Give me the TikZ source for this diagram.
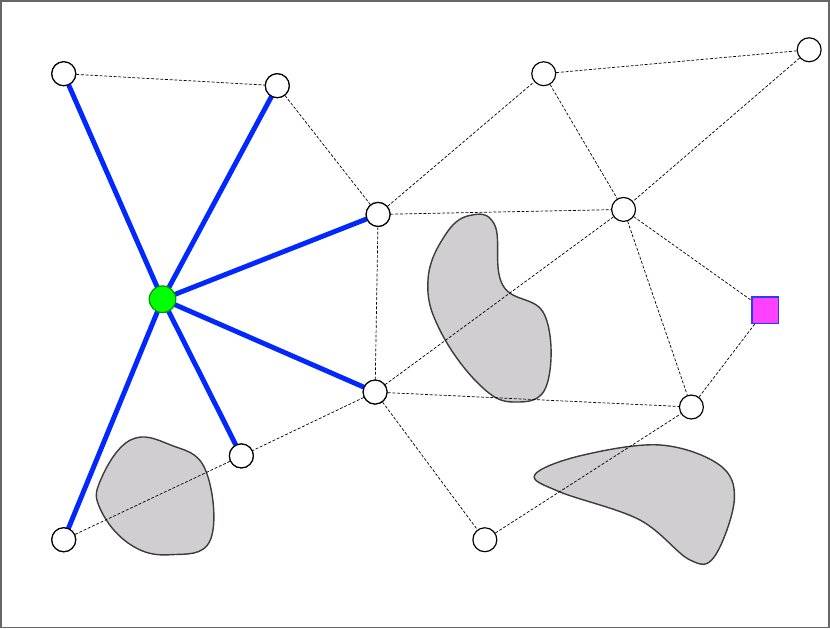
\documentclass[tikz,border=0pt]{standalone}
\begin{document}
\begin{tikzpicture}[x=0.03cm,y=-0.03cm,
    vtx/.style={circle,draw,fill=white,line width=1pt,minimum size=0.72cm,inner sep=0pt},
    link/.style={dash pattern=on 2.5pt off 1.5pt,line width=0.6pt},
    path/.style={line width=4.2pt,draw={rgb,255:red,0;green,40;blue,255}},
    blob/.style={draw={rgb,255:red,60;green,60;blue,60},fill={rgb,255:red,208;green,206;blue,208},line width=1.2pt}]
\draw[line width=1.5pt,gray!80!black] (0,0) rectangle (830,628);
% obstacles
\draw[blob] plot[smooth cycle,tension=0.7] coordinates {(470,215) (495,225) (503,285) (545,315) (547,385) (515,402) (480,385) (440,330) (428,280) (445,235)};
\draw[blob] plot[smooth cycle,tension=0.7] coordinates {(100,480) (130,440) (170,445) (205,470) (210,540) (170,555) (130,545) (100,510)};
\draw[blob] plot[smooth cycle,tension=0.6] coordinates {(535,475) (580,456) (660,445) (720,465) (735,500) (715,557) (690,560) (640,520) (560,492)};
% nodes
\node[vtx] (a) at (63,73) {};
\node[vtx] (b) at (277,85) {};
\node[vtx] (c) at (378,214) {};
\node[vtx] (d) at (544,73) {};
\node[vtx] (e) at (810,49) {};
\node[vtx] (f) at (624,209) {};
\node[vtx] (h) at (375,392) {};
\node[vtx] (i) at (241,456) {};
\node[vtx] (j) at (63,540) {};
\node[vtx] (k) at (485,540) {};
\node[vtx] (l) at (692,407) {};
\node[draw={rgb,255:red,40;green,60;blue,255},fill={rgb,255:red,255;green,64;blue,255},line width=1pt,minimum size=0.8cm,inner sep=0pt] (goal) at (766,310) {};
% links
\foreach \u/\v in {a/b,b/c,c/d,d/e,d/f,e/f,c/f,c/h,f/h,f/l,f/goal,goal/l,h/l,h/k,k/l,h/i,i/j}
  \draw[link] (\u) -- (\v);
% tree
\coordinate (g) at (162,299);
\foreach \v in {a,b,c,h,i,j}
  \draw[path,shorten >=-5pt] (g) -- (\v.center);
\foreach \v in {a,b,c,h,i,j}
  \node[vtx] at (\v) {};
\node[circle,draw={rgb,255:red,0;green,150;blue,0},fill={rgb,255:red,0;green,255;blue,0},line width=1pt,minimum size=0.8cm,inner sep=0pt] (start) at (g) {};
\end{tikzpicture}
\end{document}
